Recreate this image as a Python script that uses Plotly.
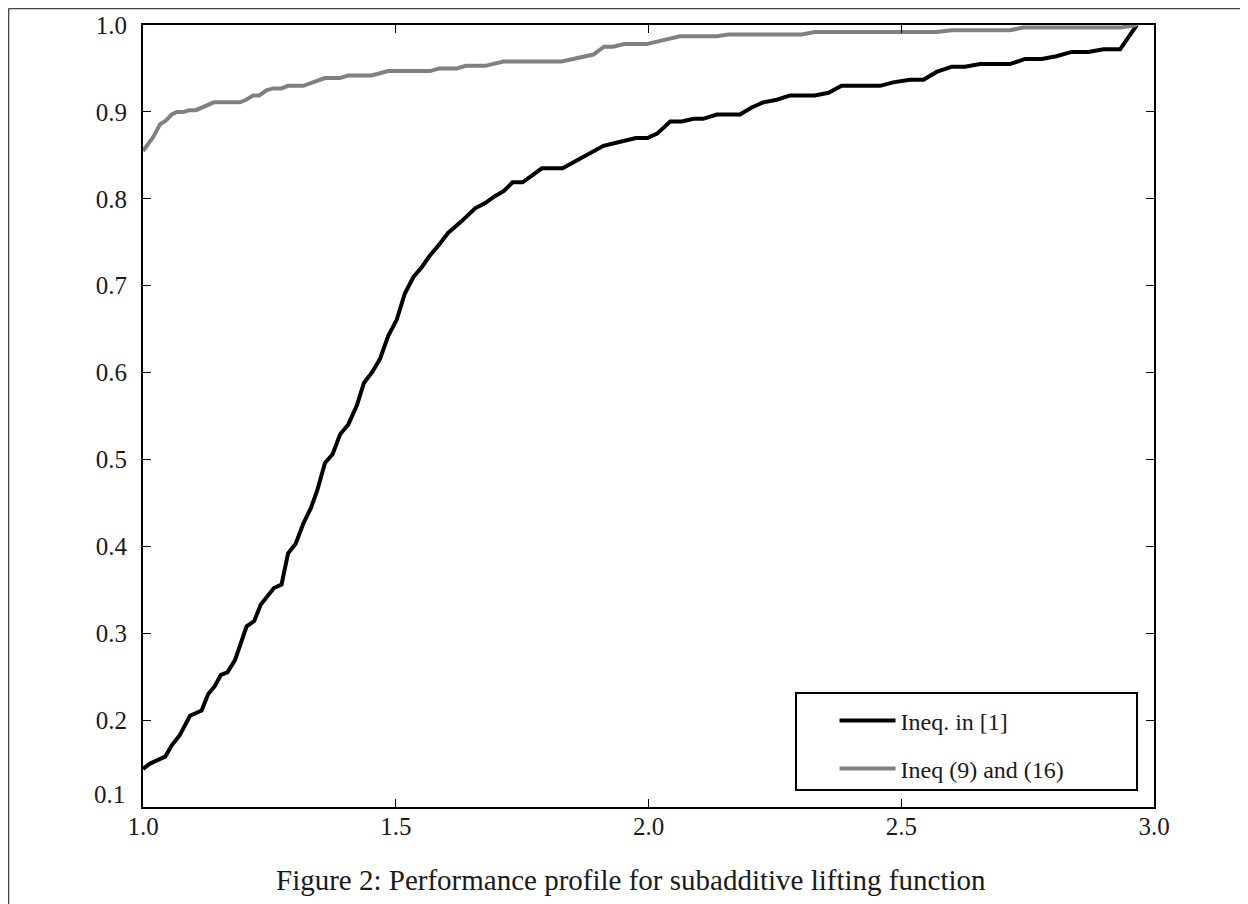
import plotly.graph_objects as go

# ---- data ----
ineq1_x = [1.000, 1.014, 1.044, 1.057, 1.073, 1.093, 1.116, 1.129, 1.142, 1.154, 1.167, 1.182,
           1.205, 1.220, 1.233, 1.245, 1.259, 1.274, 1.287, 1.302, 1.317, 1.332, 1.345, 1.360,
           1.375, 1.390, 1.406, 1.423, 1.437, 1.454, 1.469, 1.485, 1.502, 1.518, 1.535, 1.551,
           1.568, 1.584, 1.604, 1.630, 1.657, 1.677, 1.696, 1.714, 1.731, 1.751, 1.789, 1.830,
           1.868, 1.891, 1.911, 1.940, 1.975, 1.998, 2.017, 2.043, 2.066, 2.089, 2.108, 2.135,
           2.181, 2.204, 2.227, 2.254, 2.280, 2.329, 2.356, 2.382, 2.458, 2.484, 2.517, 2.544,
           2.570, 2.600, 2.626, 2.656, 2.715, 2.745, 2.778, 2.807, 2.837, 2.870, 2.900, 2.933,
           2.966]
ineq1_y = [0.144, 0.150, 0.158, 0.171, 0.183, 0.205, 0.211, 0.230, 0.239, 0.252, 0.255, 0.269,
           0.308, 0.314, 0.333, 0.342, 0.352, 0.356, 0.392, 0.403, 0.426, 0.444, 0.465, 0.496,
           0.506, 0.529, 0.540, 0.562, 0.588, 0.601, 0.616, 0.642, 0.661, 0.691, 0.710, 0.721,
           0.735, 0.746, 0.761, 0.774, 0.789, 0.795, 0.803, 0.809, 0.819, 0.819, 0.835, 0.835,
           0.847, 0.855, 0.861, 0.865, 0.870, 0.870, 0.875, 0.889, 0.889, 0.892, 0.892, 0.897,
           0.897, 0.905, 0.911, 0.914, 0.919, 0.919, 0.922, 0.930, 0.930, 0.934, 0.937, 0.937,
           0.946, 0.952, 0.952, 0.955, 0.955, 0.961, 0.961, 0.964, 0.969, 0.969, 0.972, 0.972,
           1.000]

ineq916_x = [1.000, 1.020, 1.034, 1.045, 1.057, 1.067, 1.080, 1.092, 1.105, 1.140, 1.192, 1.204,
             1.218, 1.230, 1.245, 1.258, 1.274, 1.287, 1.317, 1.360, 1.390, 1.406, 1.452, 1.485,
             1.568, 1.586, 1.621, 1.639, 1.677, 1.713, 1.828, 1.891, 1.912, 1.930, 1.952, 1.996,
             2.062, 2.135, 2.158, 2.303, 2.329, 2.570, 2.600, 2.715, 2.741, 2.933, 2.966]
ineq916_y = [0.855, 0.871, 0.886, 0.890, 0.897, 0.900, 0.900, 0.902, 0.902, 0.911, 0.911, 0.914,
             0.919, 0.919, 0.925, 0.927, 0.927, 0.930, 0.930, 0.939, 0.939, 0.942, 0.942, 0.947,
             0.947, 0.950, 0.950, 0.953, 0.953, 0.958, 0.958, 0.966, 0.975, 0.975, 0.978, 0.978,
             0.987, 0.987, 0.989, 0.989, 0.992, 0.992, 0.994, 0.994, 0.997, 0.997, 1.000]

series_names = ["Ineq. in [1]", "Ineq (9) and (16)"]
x_ticks = [1.0, 1.5, 2.0, 2.5, 3.0]
x_ticklabels = ["1.0", "1.5", "2.0", "2.5", "3.0"]
y_ticks = [0.1, 0.2, 0.3, 0.4, 0.5, 0.6, 0.7, 0.8, 0.9, 1.0]
# the lowest label is drawn a little above its tick (as in the reference), see annotation below
y_ticklabels = ["", "0.2", "0.3", "0.4", "0.5", "0.6", "0.7", "0.8", "0.9", "1.0"]
y_bottom_label = "0.1"
caption = "Figure 2: Performance profile for subadditive lifting function"

SERIF = "Liberation Serif, DejaVu Serif, serif"
TICKFONT = dict(family=SERIF, size=25, color="#1a1a1a")

fig = go.Figure()
fig.add_trace(go.Scatter(x=ineq1_x, y=ineq1_y, mode="lines", name=series_names[0],
                         legendgroup="a", line=dict(color="#000000", width=4)))
fig.add_trace(go.Scatter(x=ineq916_x, y=ineq916_y, mode="lines", name=series_names[1],
                         legendgroup="b", line=dict(color="#808080", width=4)))

axis_common = dict(
    showline=True, linecolor="#000000", linewidth=2, mirror="ticks",
    ticks="inside", ticklen=8, tickwidth=1, tickcolor="#000000",
    showgrid=False, zeroline=False, automargin=False,
    tickfont=TICKFONT,
)

fig.update_layout(
    width=1240, height=896, autosize=False,
    margin=dict(l=135, r=94, t=17, b=97),
    paper_bgcolor="#ffffff", plot_bgcolor="#ffffff",
    xaxis=dict(range=[1.0, 3.0], tickvals=x_ticks, ticktext=x_ticklabels,
               ticklabelstandoff=-4, **axis_common),
    yaxis=dict(range=[0.1, 1.0], tickvals=y_ticks, ticktext=y_ticklabels,
               ticklabelstandoff=9, **axis_common),
    showlegend=True,
    legend=dict(x=0.684, y=0.139, xanchor="left", yanchor="top",
                bgcolor="rgba(0,0,0,0)", borderwidth=0,
                font=dict(family=SERIF, size=24, color="#1a1a1a"),
                tracegroupgap=14, itemwidth=56),
    shapes=[
        # legend frame
        dict(type="rect", xref="paper", yref="paper", x0=0.6459, x1=0.9832,
             y0=0.0217, y1=0.1458, line=dict(color="#000000", width=2),
             fillcolor="#ffffff", layer="above"),
        # page frame (top and left edges)
        dict(type="line", xref="paper", yref="paper", x0=-0.1330, x1=1.093,
             y0=1.0211, y1=1.0211, line=dict(color="#444444", width=1.5)),
        dict(type="line", xref="paper", yref="paper", x0=-0.1330, x1=-0.1330,
             y0=1.0211, y1=-0.125, line=dict(color="#444444", width=1.5)),
    ],
    annotations=[
        dict(text=caption, xref="paper", yref="paper", x=0.4827, y=-0.0934,
             xanchor="center", yanchor="middle", showarrow=False,
             font=dict(family=SERIF, size=29, color="#1a1a1a")),
        dict(text=y_bottom_label, xref="paper", yref="paper", x=-0.0158, y=0.0154,
             xanchor="right", yanchor="middle", showarrow=False, font=TICKFONT),
    ],
)

fig.write_html("out.html")
